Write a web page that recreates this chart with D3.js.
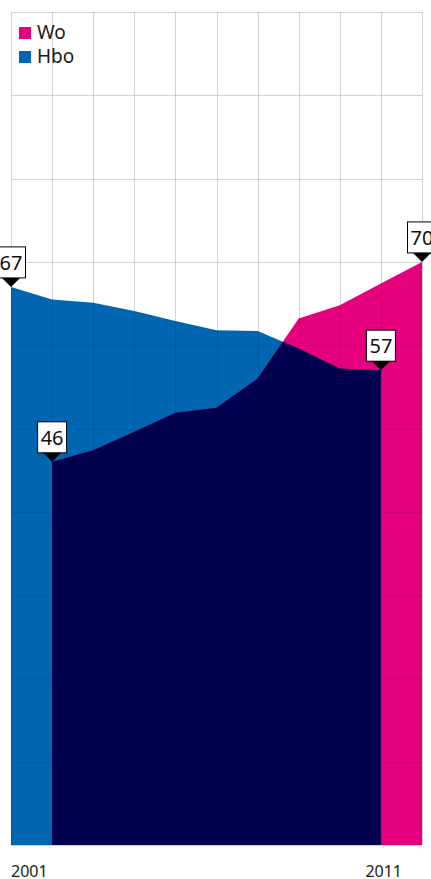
<!DOCTYPE html>
<html>
<head>
<meta charset="utf-8">
<script src="https://cdn.jsdelivr.net/npm/d3@7"></script>
<style>
  html, body { margin: 0; padding: 0; background: #fff; overflow: hidden; }
  svg { display: block; font-family: "Noto Sans", "Open Sans", sans-serif; }
</style>
</head>
<body>
<svg id="chart" width="431" height="879"></svg>
<script>
// Share of graduates (%), Hbo and Wo
const hboYears = [2001, 2002, 2003, 2004, 2005, 2006, 2007, 2008, 2009, 2010];
const hboValues = [67, 65.5, 65.1, 64.1, 62.9, 61.8, 61.7, 59.6, 57.2, 57];
const woYears = [2002, 2003, 2004, 2005, 2006, 2007, 2008, 2009, 2010, 2011];
const woValues = [46, 47.4, 49.6, 51.9, 52.5, 56.0, 63.2, 64.8, 67.4, 70];
const yTicks = [0, 10, 20, 30, 40, 50, 60, 70, 80, 90, 100];
const xGridYears = [2001, 2002, 2003, 2004, 2005, 2006, 2007, 2008, 2009, 2010, 2011];
const xTickLabels = ["2001", "2011"];
const series = ["Wo", "Hbo"];
const colors = { Wo: "#e5007e", Hbo: "#0066b2", overlap: "#00004f" };

// Labelled points: first Hbo, first Wo, last Hbo, last Wo
const callouts = [
  { year: hboYears[0], value: hboValues[0] },
  { year: woYears[0], value: woValues[0] },
  { year: hboYears[hboYears.length - 1], value: hboValues[hboValues.length - 1] },
  { year: woYears[woYears.length - 1], value: woValues[woValues.length - 1] }
];

const svg = d3.select("#chart");
const plotLeft = 11, plotRight = 422, plotTop = 12, plotBottom = 845;

const x = d3.scaleLinear().domain([2001, 2011]).range([plotLeft, plotRight]);
const y = d3.scaleLinear().domain([0, 100]).range([plotBottom, plotTop]);

const hbo = hboYears.map((yr, i) => ({ year: yr, value: hboValues[i] }));
const wo = woYears.map((yr, i) => ({ year: yr, value: woValues[i] }));

const area = d3.area()
  .x(d => x(d.year))
  .y0(y(0))
  .y1(d => y(d.value));

// Grid below the areas
const gridBack = svg.append("g").attr("stroke", "#e8e8e8").attr("stroke-width", 1);
function drawGrid(g) {
  g.selectAll("line.h").data(yTicks).join("line")
    .attr("class", "h")
    .attr("x1", plotLeft).attr("x2", plotRight)
    .attr("y1", d => Math.round(y(d)) + 0.5).attr("y2", d => Math.round(y(d)) + 0.5);
  g.selectAll("line.v").data(xGridYears).join("line")
    .attr("class", "v")
    .attr("y1", plotTop).attr("y2", plotBottom)
    .attr("x1", d => Math.round(x(d)) + 0.5).attr("x2", d => Math.round(x(d)) + 0.5);
}
drawGrid(gridBack);

// Areas: Hbo, Wo, and the overlap of both
const defs = svg.append("defs");
defs.append("clipPath").attr("id", "hbo-clip")
  .append("path").attr("d", area(hbo));

svg.append("path").attr("d", area(hbo)).attr("fill", colors.Hbo);
svg.append("path").attr("d", area(wo)).attr("fill", colors.Wo);
svg.append("path").attr("d", area(wo)).attr("fill", colors.overlap)
  .attr("clip-path", "url(#hbo-clip)");

// Faint grid over the areas
const gridFront = svg.append("g").attr("stroke", "rgba(0,0,0,0.09)").attr("stroke-width", 1);
drawGrid(gridFront);

// X axis labels
svg.append("text").attr("x", x(2001)).attr("y", 877)
  .attr("text-anchor", "start").attr("font-size", 16).attr("fill", "#1a1a1a")
  .text(xTickLabels[0]);
svg.append("text").attr("x", x(2011) - 20).attr("y", 877)
  .attr("text-anchor", "end").attr("font-size", 16).attr("fill", "#1a1a1a")
  .text(xTickLabels[1]);

// Legend
const legend = svg.append("g");
series.forEach((s, i) => {
  legend.append("rect").attr("x", 19).attr("y", 27 + i * 24)
    .attr("width", 12).attr("height", 12).attr("fill", colors[s]);
  legend.append("text").attr("x", 37).attr("y", 39 + i * 24)
    .attr("font-size", 19).attr("fill", "#1a1a1a").text(s);
});

// Value callouts: white box with a black pointer
const boxW = 29, boxH = 31, triH = 9, triW = 9;
callouts.forEach(c => {
  const cx = x(c.year), cy = y(c.value);
  const g = svg.append("g");
  g.append("rect")
    .attr("x", cx - boxW / 2).attr("y", cy - triH - boxH)
    .attr("width", boxW).attr("height", boxH)
    .attr("fill", "#fff").attr("stroke", "#000").attr("stroke-width", 1);
  g.append("path")
    .attr("d", `M${cx - triW},${cy - triH} L${cx + triW},${cy - triH} L${cx},${cy} Z`)
    .attr("fill", "#000");
  g.append("text")
    .attr("x", cx).attr("y", cy - triH - 8)
    .attr("text-anchor", "middle").attr("font-size", 20).attr("fill", "#111")
    .text(d3.format("d")(c.value));
});
</script>
</body>
</html>
